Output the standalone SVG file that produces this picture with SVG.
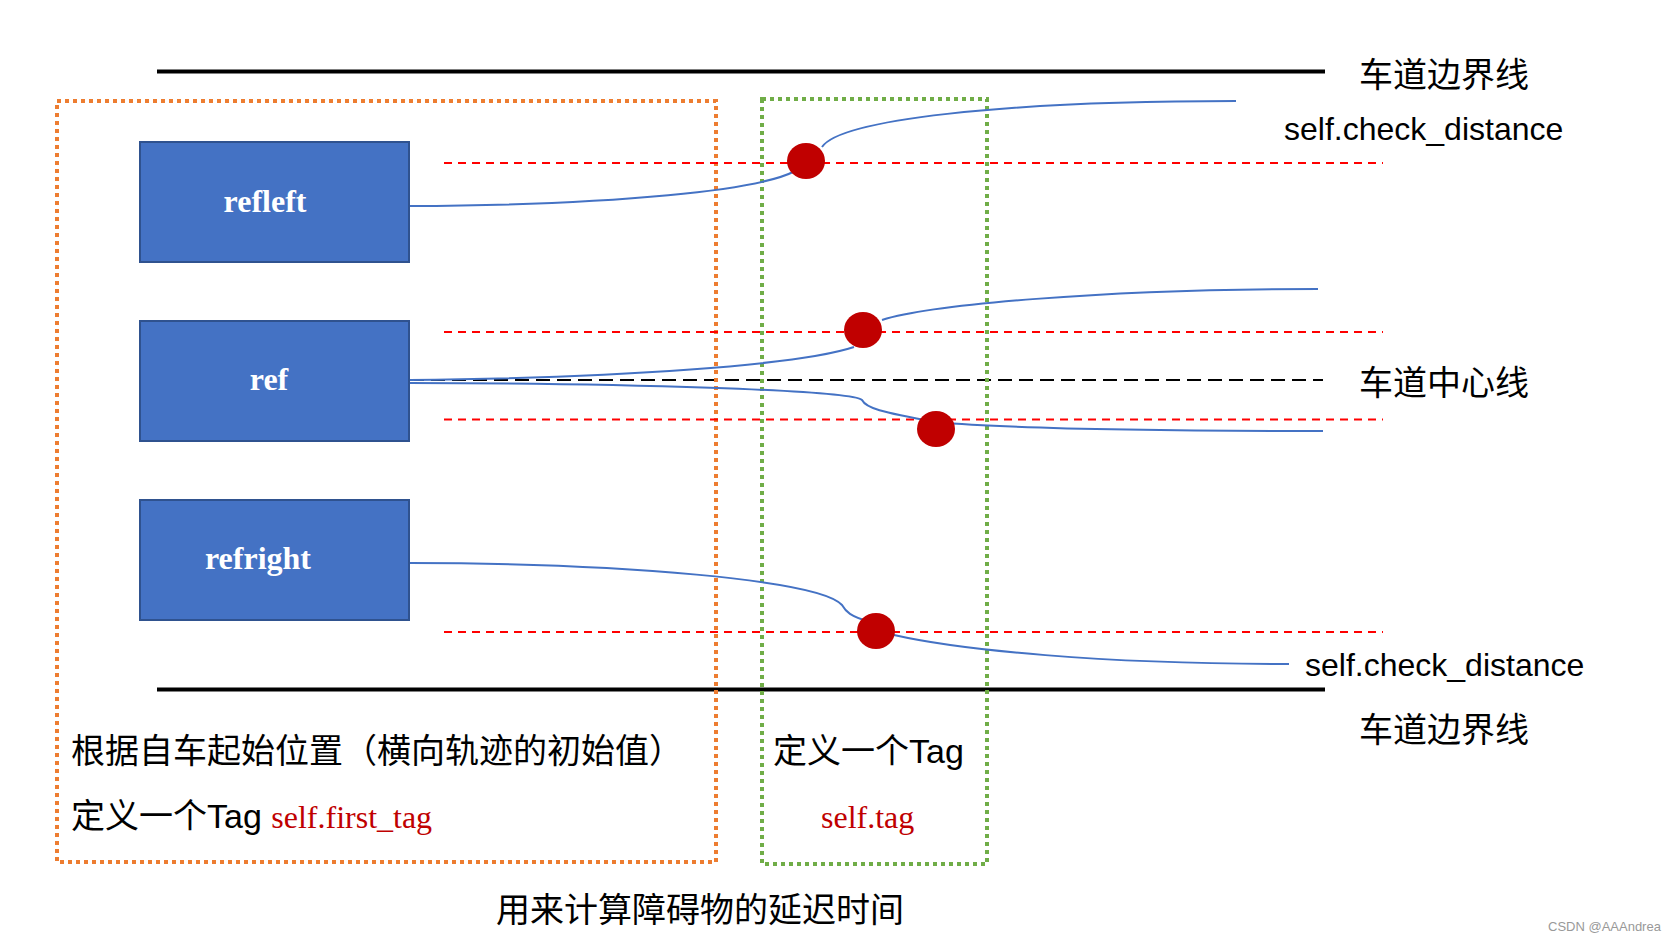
<svg xmlns="http://www.w3.org/2000/svg" width="1665" height="937" viewBox="0 0 1665 937">
<style>
.box{fill:#4472C4;stroke:#2F528F;stroke-width:2}
.bl{fill:#fff;font-family:"Liberation Serif",serif;font-weight:bold;font-size:32px;text-anchor:middle}
.t{font-family:"Liberation Sans","Noto Sans CJK SC",sans-serif;font-size:34px;fill:#000}
.s{font-family:"Liberation Sans",sans-serif;font-size:32px;fill:#000}
.r{font-family:"Liberation Serif",serif;font-size:32px;fill:#C00000}
.rd{stroke:#FF0000;stroke-width:2;stroke-dasharray:8 6;fill:none}
.cv{stroke:#4472C4;stroke-width:2;fill:none}
.dot{fill:#C00000}
</style>
<rect width="1665" height="937" fill="#fff"/>
<g id="lanes">
<line x1="157" y1="71.5" x2="1325" y2="71.5" stroke="#000" stroke-width="4"/>
<line x1="157" y1="689.5" x2="1325" y2="689.5" stroke="#000" stroke-width="4"/>
<line x1="410" y1="380" x2="1323" y2="380" stroke="#000" stroke-width="2" stroke-dasharray="14 7"/>
</g>
<g id="regions">
<rect x="57" y="101" width="659" height="761" fill="none" stroke="#ED7D31" stroke-width="4" stroke-dasharray="4 4"/>
<rect x="762" y="99" width="225" height="765" fill="none" stroke="#70AD47" stroke-width="4" stroke-dasharray="4 4"/>
</g>
<g id="node-refleft"><rect class="box" x="140" y="142" width="269" height="120"/><text class="bl" x="265" y="212">refleft</text></g>
<g id="node-ref"><rect class="box" x="140" y="321" width="269" height="120"/><text class="bl" x="269" y="390">ref</text></g>
<g id="node-refright"><rect class="box" x="140" y="500" width="269" height="120"/><text class="bl" x="258" y="569">refright</text></g>
<g id="connectors">
<line class="rd" x1="444" y1="163" x2="1383" y2="163"/>
<line class="rd" x1="444" y1="332" x2="1383" y2="332"/>
<line class="rd" x1="444" y1="419.5" x2="1383" y2="419.5"/>
<line class="rd" x1="444" y1="632" x2="1383" y2="632"/>
<path class="cv" d="M410 206 C620 205 760 190 795 171"/>
<path class="cv" d="M822 147 C840 120 1000 101 1236 101"/>
<path class="cv" d="M410 380 C620 378 800 365 854 347"/>
<path class="cv" d="M882 320 C930 305 1100 289 1318 289"/>
<path class="cv" d="M410 383 C620 383 850 390 862 400 C866 408 880 412 936 422 C1000 428 1150 431 1323 431"/>
<path class="cv" d="M410 563 C620 563 820 580 842 605 C846 612 850 616 870 622"/>
<path class="cv" d="M894 635 C960 650 1100 664 1289 664"/>
<ellipse class="dot" cx="806" cy="161" rx="19" ry="18"/>
<ellipse class="dot" cx="863" cy="330" rx="19" ry="18"/>
<ellipse class="dot" cx="936" cy="429" rx="19" ry="18"/>
<ellipse class="dot" cx="876" cy="631" rx="19" ry="18"/>
</g>
<g id="labels">
<text class="t" x="1359" y="87">车道边界线</text>
<text class="s" x="1284" y="140">self.check_distance</text>
<text class="t" x="1359" y="395">车道中心线</text>
<text class="s" x="1305" y="676">self.check_distance</text>
<text class="t" x="1359" y="742">车道边界线</text>
<text class="t" x="71" y="763">根据自车起始位置（横向轨迹的初始值）</text>
<text class="t" x="71" y="828">定义一个Tag <tspan class="r">self.first_tag</tspan></text>
<text class="t" x="773" y="763">定义一个Tag</text>
<text class="r" x="821" y="828">self.tag</text>
<text class="t" x="496" y="922">用来计算障碍物的延迟时间</text>
<text x="1548" y="931" font-family="Liberation Sans,sans-serif" font-size="13" fill="#999">CSDN @AAAndrea</text>
</g>
</svg>
